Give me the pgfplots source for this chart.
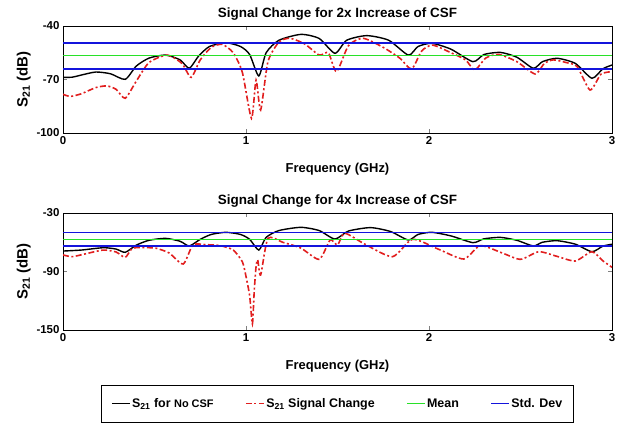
\documentclass[border=0pt]{standalone}
\usepackage{fontspec}
\setmainfont{Liberation Sans}
\usepackage{pgfplots}
\pgfplotsset{compat=1.18}

\definecolor{matgreen}{RGB}{40,225,40}
\definecolor{matblue}{RGB}{20,20,220}
\definecolor{matred}{RGB}{225,30,30}

\pgfplotsset{
  sigax/.style={
    scale only axis, width=549bp,
    xmin=0, xmax=3, xtick={0,1,2,3},
    tick align=inside,
    /pgf/number format/assume math mode=true,
    ticklabel style={font=\bfseries\fontsize{11.5}{13}\selectfont},
    label style={font=\bfseries\fontsize{13}{15}\selectfont},
    title style={font=\bfseries\fontsize{13.5}{15}\selectfont, yshift=-4bp},
    xlabel={Frequency (GHz)},
    ylabel={S\textsubscript{21} (dB)},
    ylabel style={font=\bfseries\fontsize{15}{17}\selectfont, yshift=-1bp},
    xlabel style={yshift=-12bp},
  },
}

\begin{document}
\begin{tikzpicture}
\begin{axis}[sigax, at={(63bp,-133bp)}, anchor=south west, height=107bp,
  ymin=-100, ymax=-40, ytick={-100,-70,-40},
  title={Signal Change for 2x Increase of CSF}]
\addplot[color=black, line width=1.4bp, smooth, tension=0.4] coordinates {
(0,-68.8)(0.05,-68.7)(0.1,-67.5)(0.18,-65.8)(0.26,-66.8)(0.34,-69.9)(0.40,-62.5)(0.47,-58)(0.56,-56.3)(0.64,-59)(0.69,-63.7)(0.74,-57)(0.80,-51.5)(0.89,-49.4)(0.97,-51.5)(1.02,-56)(1.07,-68)(1.11,-55)(1.18,-48)(1.30,-44.7)(1.40,-47)(1.486,-55.3)(1.55,-48)(1.66,-45.4)(1.78,-48)(1.887,-56.3)(1.94,-51.5)(2.015,-49.7)(2.12,-53)(2.24,-60)(2.30,-56)(2.39,-54.8)(2.48,-57.5)(2.57,-63.7)(2.62,-60)(2.70,-58.1)(2.80,-61)(2.89,-69.3)(2.95,-64)(3.0,-61.9)
};
\addplot[color=matred, line width=1.6bp, smooth, tension=0.4, dash pattern=on 6bp off 2.5bp on 2bp off 2.5bp] coordinates {
(0,-78.3)(0.04,-79.5)(0.10,-78)(0.18,-74.5)(0.24,-73.6)(0.29,-75.5)(0.34,-80.5)(0.40,-71)(0.47,-60.5)(0.57,-56.3)(0.65,-61)(0.70,-68.8)(0.75,-59)(0.81,-52)(0.87,-50.3)(0.93,-55)(0.98,-66)(1.03,-91.8)(1.055,-70.3)(1.08,-87.1)(1.12,-60)(1.18,-49)(1.24,-46.9)(1.32,-50)(1.40,-56.3)(1.45,-55)(1.495,-65.6)(1.56,-51)(1.64,-46.9)(1.75,-52)(1.84,-58)(1.905,-64.1)(1.96,-54)(2.02,-50.7)(2.12,-55)(2.20,-59)(2.25,-64.7)(2.31,-58)(2.38,-55.9)(2.48,-60)(2.58,-66.9)(2.63,-61)(2.68,-59)(2.75,-60.5)(2.81,-62.8)(2.88,-75.9)(2.94,-67)(3.0,-65.6)
};
\addplot[color=matgreen, line width=1.4bp] coordinates {(0,-56.7)(3,-56.7)};
\addplot[color=matblue, line width=1.4bp] coordinates {(0,-49.5)(3,-49.5)};
\addplot[color=matblue, line width=1.4bp] coordinates {(0,-64)(3,-64)};
\end{axis}

\begin{axis}[sigax, at={(63bp,-330bp)}, anchor=south west, height=117bp,
  ymin=-150, ymax=-30, ytick={-150,-90,-30},
  title={Signal Change for 4x Increase of CSF},
  legend columns=4,
  legend style={at={(0.5,-0.47)}, anchor=north, draw=black, line width=0.8bp,
    font=\bfseries\fontsize{12.5}{14}\selectfont, inner xsep=10bp, inner ysep=11bp,
    nodes={inner xsep=1.5bp},
    /tikz/every even column/.append style={column sep=30bp}},
  legend image code/.code={\draw[#1] (0bp,0bp) -- (18bp,0bp);}]
\addplot[color=black, line width=1.4bp, smooth, tension=0.4] coordinates {
(0,-69)(0.10,-68)(0.22,-65.6)(0.29,-67)(0.34,-70.3)(0.40,-63)(0.47,-58)(0.56,-56)(0.64,-59)(0.69,-63.8)(0.75,-57)(0.81,-52)(0.89,-49.8)(0.97,-52)(1.02,-57)(1.07,-68)(1.11,-55)(1.18,-48)(1.30,-44.7)(1.40,-48)(1.486,-56.7)(1.56,-48.5)(1.68,-45)(1.79,-49)(1.887,-57.7)(1.94,-52)(2.015,-49.8)(2.12,-53.5)(2.24,-60.4)(2.30,-56.5)(2.39,-55)(2.48,-58)(2.57,-63.8)(2.62,-60)(2.70,-58.4)(2.80,-62)(2.89,-69.7)(2.95,-64)(3.0,-62)
};
\addlegendentry{S\textsubscript{21} for {\fontsize{11}{12}\selectfont No CSF}}
\addplot[color=matred, line width=1.6bp, smooth, tension=0.4, dash pattern=on 6bp off 2.5bp on 2bp off 2.5bp] coordinates {
(0,-73)(0.05,-74.8)(0.12,-72)(0.22,-68)(0.29,-70)(0.34,-75.5)(0.38,-66.2)(0.45,-65.5)(0.51,-66.2)(0.58,-71)(0.657,-82.3)(0.71,-62.8)(0.78,-62.5)(0.86,-63.5)(0.93,-68)(0.98,-80)(1.00,-95)(1.02,-115)(1.035,-143.8)(1.045,-110)(1.055,-85)(1.064,-78)(1.08,-93.6)(1.12,-56)(1.20,-60)(1.30,-66)(1.40,-77.5)(1.46,-57.7)(1.50,-62.8)(1.54,-50.8)(1.65,-62)(1.80,-74.8)(1.91,-57)(2.05,-67)(2.19,-77.2)(2.28,-63.5)(2.40,-71)(2.50,-77.5)(2.60,-69.7)(2.70,-74.5)(2.80,-79.2)(2.89,-69.7)(2.95,-79)(3.0,-85.7)
};
\addlegendentry{S\textsubscript{21} Signal Change}
\addplot[color=matgreen, line width=1.4bp] coordinates {(0,-57)(3,-57)};
\addlegendentry{Mean}
\addplot[color=matblue, line width=1.4bp] coordinates {(0,-50)(3,-50)};
\addlegendentry{Std. Dev}
\addplot[color=matblue, line width=1.4bp, forget plot] coordinates {(0,-64)(3,-64)};
\end{axis}
\pgfresetboundingbox
\path[use as bounding box] (0bp,0bp) rectangle (618bp,-423bp);
\end{tikzpicture}
\end{document}
